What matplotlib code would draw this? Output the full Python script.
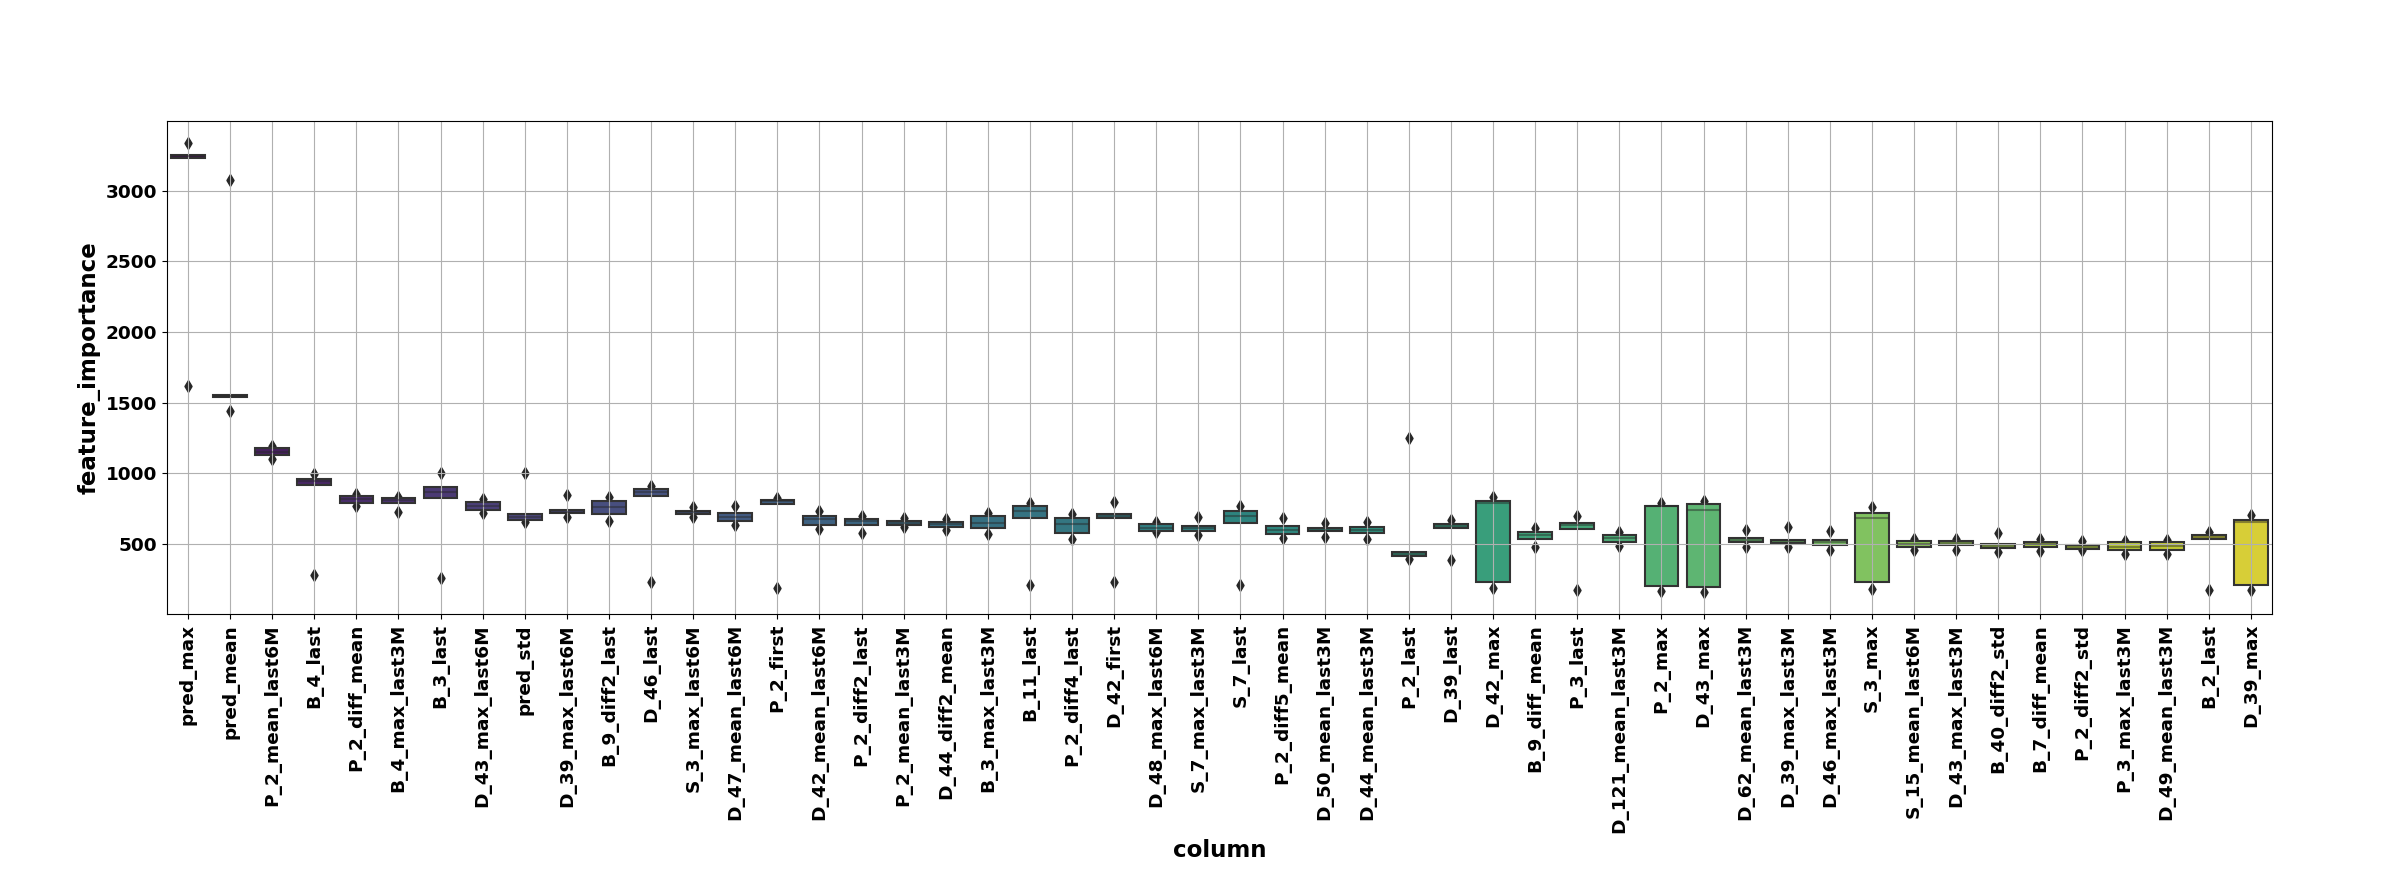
import colorsys
import numpy as np
import matplotlib
matplotlib.use("Agg")
import matplotlib.pyplot as plt
from matplotlib.patches import Rectangle

# feature importance of each column over the 5 folds
columns = [
    "pred_max", "pred_mean", "P_2_mean_last6M", "B_4_last", "P_2_diff_mean",
    "B_4_max_last3M", "B_3_last", "D_43_max_last6M", "pred_std", "D_39_max_last6M",
    "B_9_diff2_last", "D_46_last", "S_3_max_last6M", "D_47_mean_last6M", "P_2_first",
    "D_42_mean_last6M", "P_2_diff2_last", "P_2_mean_last3M", "D_44_diff2_mean", "B_3_max_last3M",
    "B_11_last", "P_2_diff4_last", "D_42_first", "D_48_max_last6M", "S_7_max_last3M",
    "S_7_last", "P_2_diff5_mean", "D_50_mean_last3M", "D_44_mean_last3M", "P_2_last",
    "D_39_last", "D_42_max", "B_9_diff_mean", "P_3_last", "D_121_mean_last3M",
    "P_2_max", "D_43_max", "D_62_mean_last3M", "D_39_max_last3M", "D_46_max_last3M",
    "S_3_max", "S_15_mean_last6M", "D_43_max_last3M", "B_40_diff2_std", "B_7_diff_mean",
    "P_2_diff2_std", "P_3_max_last3M", "D_49_mean_last3M", "B_2_last", "D_39_max",
]

fold_importance = [
    [1620, 3232, 3245, 3255, 3336],
    [1443, 1538, 1545, 1552, 3075],
    [1100, 1130, 1150, 1175, 1195],
    [282, 918, 945, 960, 995],
    [765, 792, 815, 842, 855],
    [725, 792, 810, 825, 835],
    [261, 826, 870, 900, 1002],
    [720, 740, 770, 793, 815],
    [655, 670, 690, 708, 1002],
    [690, 718, 728, 738, 847],
    [660, 708, 760, 800, 830],
    [230, 840, 870, 890, 912],
    [688, 712, 725, 735, 760],
    [632, 660, 690, 718, 765],
    [188, 782, 800, 812, 822],
    [605, 632, 675, 700, 735],
    [575, 632, 660, 678, 700],
    [618, 632, 650, 662, 680],
    [600, 622, 640, 657, 676],
    [570, 612, 650, 694, 716],
    [207, 680, 730, 766, 790],
    [531, 580, 640, 680, 712],
    [230, 680, 700, 710, 798],
    [585, 590, 615, 638, 655],
    [560, 590, 610, 626, 688],
    [207, 650, 700, 732, 770],
    [540, 570, 600, 626, 681],
    [550, 590, 600, 610, 650],
    [531, 580, 600, 617, 657],
    [395, 415, 430, 443, 1251],
    [383, 610, 625, 640, 670],
    [190, 232, 790, 800, 833],
    [477, 535, 560, 585, 613],
    [176, 602, 630, 648, 695],
    [484, 515, 540, 563, 587],
    [167, 200, 765, 770, 786],
    [160, 195, 742, 779, 805],
    [477, 510, 530, 543, 601],
    [477, 505, 518, 530, 622],
    [460, 490, 512, 530, 594],
    [178, 232, 681, 716, 758],
    [455, 480, 500, 518, 532],
    [455, 490, 505, 518, 536],
    [441, 468, 482, 500, 575],
    [448, 480, 500, 516, 535],
    [453, 467, 480, 493, 519],
    [430, 458, 481, 510, 523],
    [430, 458, 488, 516, 528],
    [176, 535, 550, 563, 582],
    [171, 210, 655, 668, 704],
]


def desaturate(rgb, prop):
    h, l, s = colorsys.rgb_to_hls(*rgb)
    return colorsys.hls_to_rgb(h, l, s * prop)


n = len(columns)
cmap = plt.get_cmap("viridis")
bins = np.linspace(0, 1, n + 2)[1:-1]
colors = [desaturate(cmap(b)[:3], 0.75) for b in bins]
edge = (0.2, 0.2, 0.2)
flier = (0.15, 0.15, 0.15)

fig = plt.figure(figsize=(23.88, 8.74), dpi=100)
ax = fig.add_axes([0.0699, 0.2971, 0.8815, 0.5648])

width = 0.8
lw = 1.5
for i, vals in enumerate(fold_importance):
    vals = np.asarray(vals, dtype=float)
    q1, med, q3 = np.percentile(vals, [25, 50, 75])
    lo, hi = np.percentile(vals, [12.5, 87.5])
    out = vals[(vals < lo) | (vals > hi)]
    # diamonds go first so the box covers them
    ax.scatter(np.full(len(out), i), out, marker="d", c=[flier], zorder=1)
    ax.plot([i - width / 2, i + width / 2], [med, med], c=".15", alpha=.45,
            solid_capstyle="butt", linewidth=lw)
    ax.add_patch(Rectangle((i - width / 2, q1), width, q3 - q1,
                           facecolor=colors[i], edgecolor=edge, linewidth=lw,
                           zorder=1))

ax.autoscale_view()
ax.set_xlim(-0.5, n - 0.5)
ax.set_xticks(range(n))
ax.set_xticklabels(columns, rotation=90, fontsize=13.3, fontweight="bold")
ax.tick_params(axis="y", labelsize=13.3)
plt.setp(ax.get_yticklabels(), fontweight="bold")
ax.set_xlabel("column", fontsize=16.5, fontweight="bold")
ax.set_ylabel("feature_importance", fontsize=16.5, fontweight="bold")
ax.grid(True)

fig.savefig("out.png", dpi=100)
